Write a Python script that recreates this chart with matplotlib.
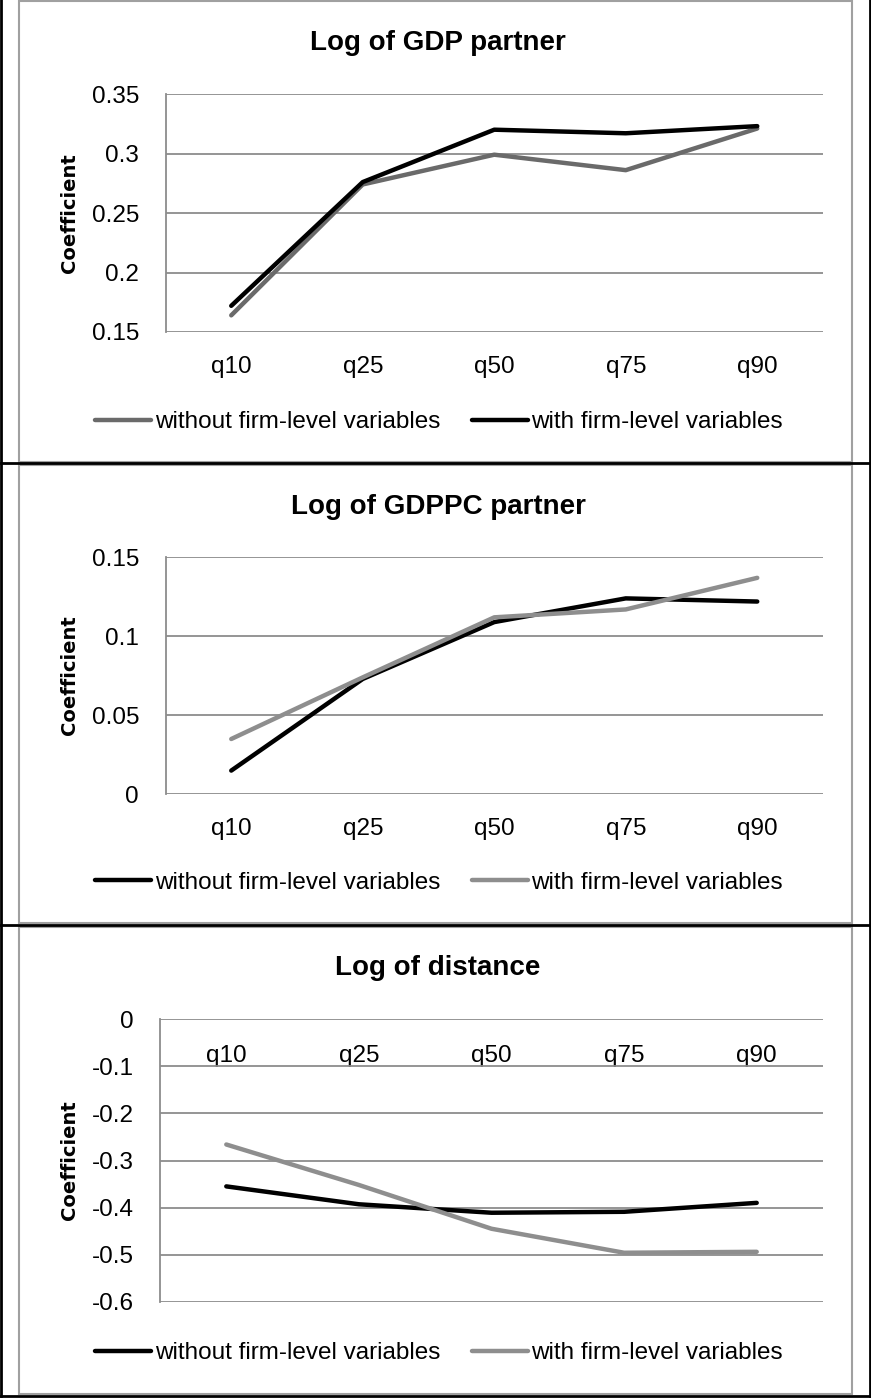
import matplotlib
matplotlib.use("Agg")
import matplotlib.pyplot as plt
from matplotlib.lines import Line2D
from matplotlib.patches import Rectangle

W, H = 871, 1398

quantiles = ["q10", "q25", "q50", "q75", "q90"]

gdp_without = [0.164, 0.274, 0.299, 0.286, 0.321]
gdp_with = [0.172, 0.276, 0.320, 0.317, 0.323]

gdppc_without = [0.015, 0.073, 0.109, 0.124, 0.122]
gdppc_with = [0.035, 0.074, 0.112, 0.117, 0.137]

dist_without = [-0.355, -0.393, -0.411, -0.409, -0.390]
dist_with = [-0.266, -0.352, -0.445, -0.496, -0.494]

plt.rcParams["font.family"] = ["Liberation Sans", "DejaVu Sans"]

GRID = "#8c8c8c"
DARK_GRAY = "#6a6a6a"
LIGHT_GRAY = "#8e8e8e"
FS = 17.5


def fbox(x0, y0, x1, y1):
    return [x0 / W, 1 - y1 / H, (x1 - x0) / W, (y1 - y0) / H]


def fx(x):
    return x / W


def fy(y):
    return 1 - y / H


fig = plt.figure(figsize=(W / 100, H / 100), dpi=100)

panels = [
    dict(title="Log of GDP partner", box=(165.5, 94, 823, 332), ylim=(0.15, 0.35),
         ticks=[0.15, 0.2, 0.25, 0.3, 0.35], tlabels=["0.15", "0.2", "0.25", "0.3", "0.35"],
         series=[(gdp_without, DARK_GRAY), (gdp_with, "black")],
         chart=(19, 1, 852, 462), title_y=43, ylab_y=213, leg_y=422, top_axis=False),
    dict(title="Log of GDPPC partner", box=(165.5, 557.3, 823, 794.3), ylim=(0, 0.15),
         ticks=[0, 0.05, 0.1, 0.15], tlabels=["0", "0.05", "0.1", "0.15"],
         series=[(gdppc_without, "black"), (gdppc_with, LIGHT_GRAY)],
         chart=(19, 465, 852, 923), title_y=507, ylab_y=675, leg_y=883, top_axis=False),
    dict(title="Log of distance", box=(160, 1019.3, 823, 1301.7), ylim=(-0.6, 0),
         ticks=[-0.6, -0.5, -0.4, -0.3, -0.2, -0.1, 0],
         tlabels=["-0.6", "-0.5", "-0.4", "-0.3", "-0.2", "-0.1", "0"],
         series=[(dist_without, "black"), (dist_with, LIGHT_GRAY)],
         chart=(19, 927, 852, 1394), title_y=968, ylab_y=1160, leg_y=1353, top_axis=True),
]

labels = ["without firm-level variables", "with firm-level variables"]

for p in panels:
    # chart area frame
    cx0, cy0, cx1, cy1 = p["chart"]
    fig.add_artist(Rectangle((fx(cx0), fy(cy1)), (cx1 - cx0) / W, (cy1 - cy0) / H,
                             transform=fig.transFigure, fill=False,
                             edgecolor="#a0a0a0", linewidth=1.5))

    ax = fig.add_axes(fbox(*p["box"]))
    x = list(range(len(quantiles)))
    handles = []
    for (vals, col), lab in zip(p["series"], labels):
        h, = ax.plot(x, vals, color=col, linewidth=3.2, solid_capstyle="round",
                     solid_joinstyle="round", label=lab)
        handles.append(h)

    ax.set_xlim(-0.5, len(quantiles) - 0.5)
    ax.set_ylim(*p["ylim"])
    ax.set_yticks(p["ticks"])
    ax.set_yticklabels(p["tlabels"])
    ax.yaxis.grid(True, color=GRID, linewidth=1.3)
    ax.set_axisbelow(True)
    for s in ["top", "right", "bottom"]:
        ax.spines[s].set_visible(False)
    ax.spines["left"].set_color(GRID)
    ax.spines["left"].set_linewidth(1.3)
    ax.tick_params(axis="y", length=0, pad=19, labelsize=FS)

    ax.set_xticks(x)
    ax.set_xticklabels(quantiles)
    if p["top_axis"]:
        ax.xaxis.tick_top()
        ax.tick_params(axis="x", length=0, pad=-34, labelsize=FS)
    else:
        ax.tick_params(axis="x", length=0, pad=17, labelsize=FS)

    fig.text(fx(438), fy(p["title_y"]), p["title"], ha="center", va="center",
             fontsize=20, fontweight="bold")
    fig.text(fx(69), fy(p["ylab_y"]), "Coefficient", rotation=90, ha="center",
             va="center", fontsize=14, fontweight="bold", family="DejaVu Sans")

    ax.legend(handles=handles, loc="center", bbox_to_anchor=(fx(439), fy(p["leg_y"])),
              bbox_transform=fig.transFigure, ncol=2, frameon=False, fontsize=FS,
              handlelength=2.3, handletextpad=0.15, columnspacing=1.3,
              borderpad=0, borderaxespad=0)

# outer table borders
for (x0, y0, x1, y1) in [(1, 0, 1, 1396), (870, 0, 870, 1396), (1, 1396, 870, 1396),
                         (1, 463, 870, 463), (1, 925, 870, 925)]:
    fig.add_artist(Line2D([fx(x0), fx(x1)], [fy(y0), fy(y1)], transform=fig.transFigure,
                          color="black", linewidth=2))

fig.savefig("out.png", dpi=100)
